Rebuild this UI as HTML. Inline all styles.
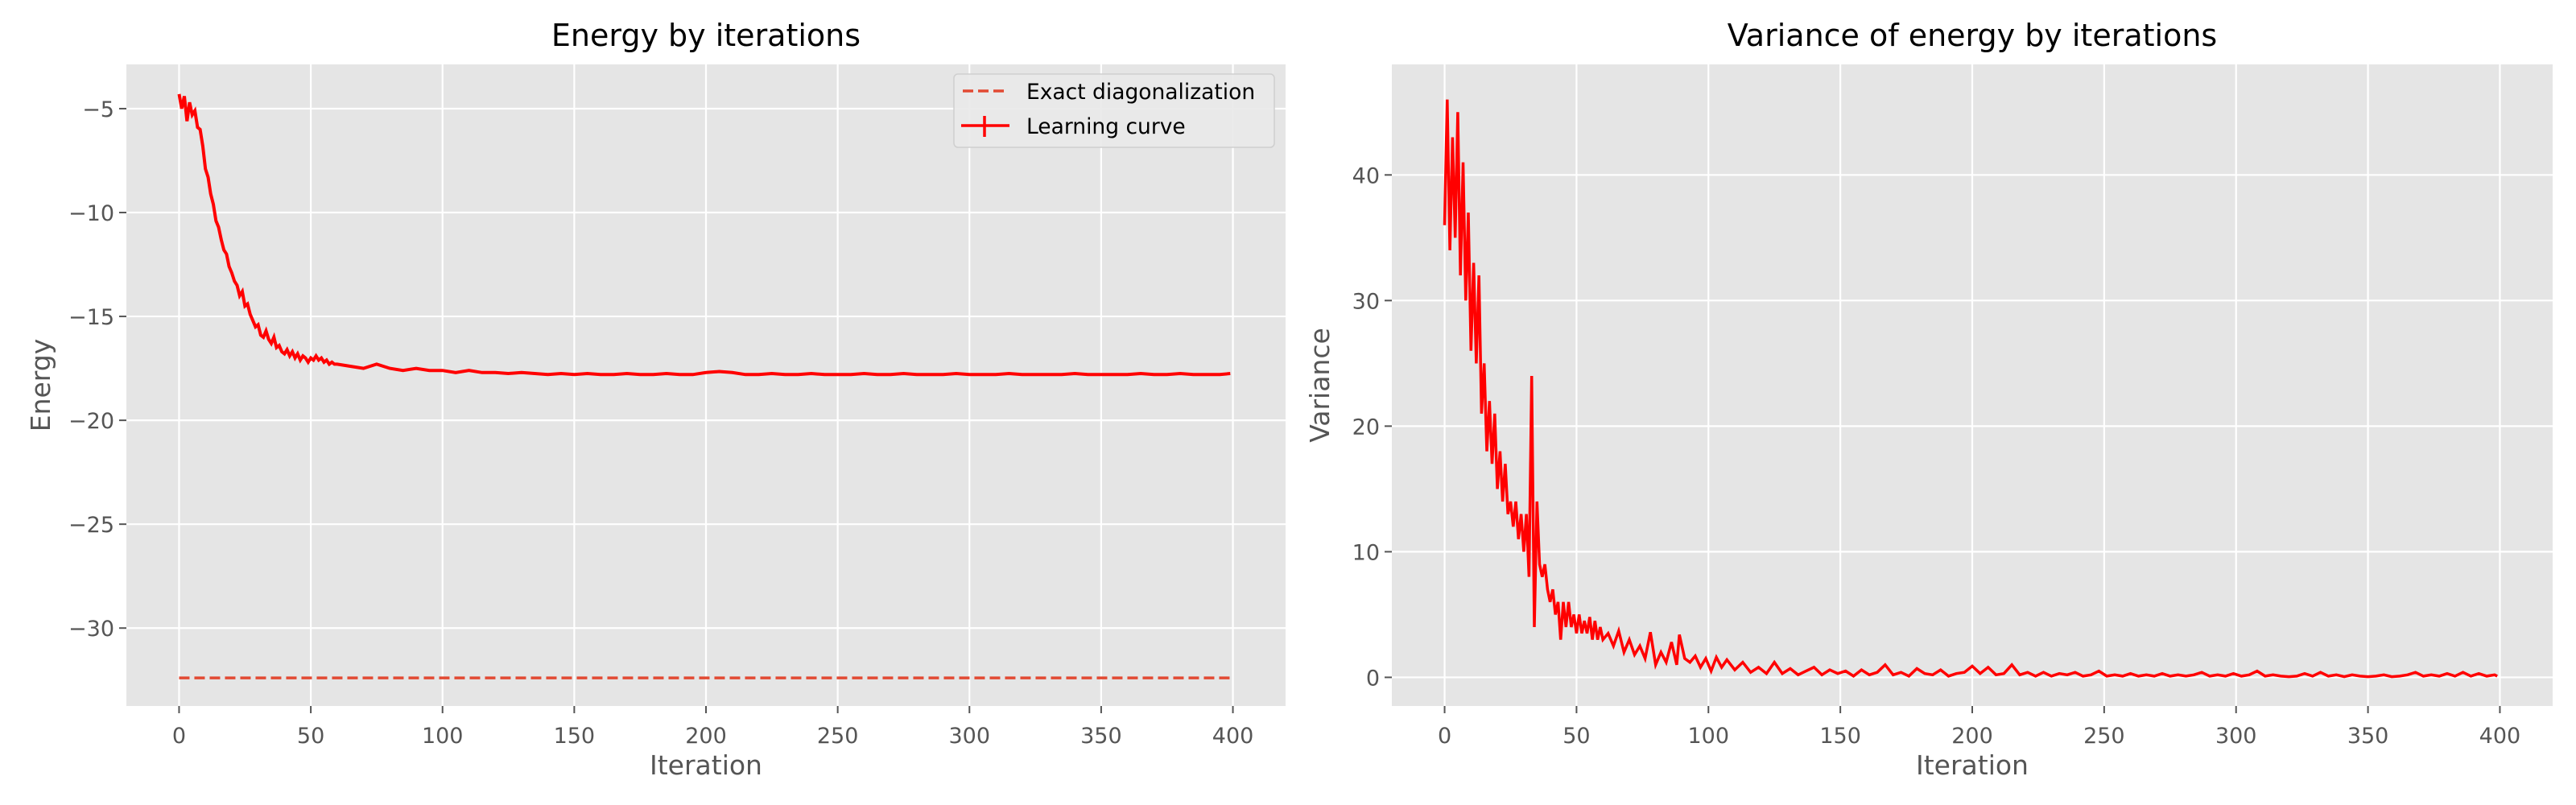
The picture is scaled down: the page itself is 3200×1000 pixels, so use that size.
<!DOCTYPE html>
<html><head><meta charset="utf-8"><style>
html,body{margin:0;padding:0;background:#fff;}
svg{display:block;font-family:"DejaVu Sans","Liberation Sans",sans-serif;}
</style></head><body>
<svg id="fig" width="3200" height="1000" viewBox="0 0 3200 1000" xmlns="http://www.w3.org/2000/svg"></svg>
<script>
// ---- data ----
const xTicks = [0,50,100,150,200,250,300,350,400];
const energyTicks = [-5,-10,-15,-20,-25,-30];
const varianceTicks = [0,10,20,30,40];
const exactEnergy = -32.4;
const energyIters = [0,1,2,3,4,5,6,7,8,9,10,11,12,13,14,15,16,17,18,19,20,21,22,23,24,25,26,27,28,29,30,31,32,33,34,35,36,37,38,39,40,41,42,43,44,45,46,47,48,49,50,51,52,53,54,55,56,57,58,59,60,
65,70,75,80,85,90,95,100,105,110,115,120,125,130,135,140,145,150,155,160,165,170,175,180,185,190,195,200,205,210,215,220,225,230,235,240,245,250,255,260,265,270,275,280,285,290,295,300,305,310,315,320,325,330,335,340,345,350,355,360,365,370,375,380,385,390,395,399];
const energyValues = [-4.3,-5.0,-4.4,-5.6,-4.7,-5.3,-5.1,-5.9,-6.0,-6.8,-7.9,-8.3,-9.1,-9.6,-10.4,-10.7,-11.3,-11.8,-12.0,-12.6,-12.9,-13.3,-13.5,-14.0,-13.8,-14.5,-14.4,-14.9,-15.2,-15.5,-15.4,-15.9,-16.0,-15.7,-16.1,-16.3,-16.0,-16.5,-16.4,-16.7,-16.8,-16.6,-16.9,-16.7,-17.0,-16.8,-17.1,-16.9,-17.0,-17.2,-17.0,-17.1,-16.9,-17.1,-17.0,-17.2,-17.1,-17.3,-17.2,-17.3,-17.3,
-17.4,-17.5,-17.3,-17.5,-17.6,-17.5,-17.6,-17.6,-17.7,-17.6,-17.7,-17.7,-17.75,-17.7,-17.75,-17.8,-17.75,-17.8,-17.75,-17.8,-17.8,-17.75,-17.8,-17.8,-17.75,-17.8,-17.8,-17.7,-17.65,-17.7,-17.8,-17.8,-17.75,-17.8,-17.8,-17.75,-17.8,-17.8,-17.8,-17.75,-17.8,-17.8,-17.75,-17.8,-17.8,-17.8,-17.75,-17.8,-17.8,-17.8,-17.75,-17.8,-17.8,-17.8,-17.8,-17.75,-17.8,-17.8,-17.8,-17.8,-17.75,-17.8,-17.8,-17.75,-17.8,-17.8,-17.8,-17.75];
const varianceIters = [0,1,2,3,4,5,6,7,8,9,10,11,12,13,14,15,16,17,18,19,20,21,22,23,24,25,26,27,28,29,30,31,32,33,34,35,36,37,38,39,40,41,42,43,44,45,46,47,48,49,50,51,52,53,54,55,56,57,58,59,60,
62,64,66,68,70,72,74,76,78,80,82,84,86,88,89,91,93,95,97,99,101,103,105,107,110,113,116,119,122,125,128,131,134,137,140,143,146,149,152,155,158,161,164,167,170,173,176,179,182,185,188,191,194,197,200,203,206,209,212,215,218,221,224,227,230,233,236,239,242,245,248,251,254,257,260,263,266,269,272,275,278,281,284,287,290,293,296,299,302,305,308,311,314,317,320,323,326,329,332,335,338,341,344,347,350,353,356,359,362,365,368,371,374,377,380,383,386,389,392,395,398,399];
const varianceValues = [36,46,34,43,35,45,32,41,30,37,26,33,25,32,21,25,18,22,17,21,15,18,14,17,13,14,12,14,11,13,10,13,8,24,4,14,9,8,9,7,6,7,5,6,3,6,4,6,4,5,3.5,5,3.5,4.5,3.5,4.8,3,4.5,3,4,3,
3.5,2.5,3.7,2,3,1.8,2.5,1.5,3.6,1,2,1.2,2.8,1,3.4,1.5,1.2,1.7,0.8,1.5,0.5,1.6,0.8,1.4,0.6,1.2,0.4,0.8,0.3,1.2,0.3,0.7,0.2,0.5,0.8,0.2,0.6,0.3,0.5,0.1,0.6,0.2,0.4,1,0.2,0.4,0.1,0.7,0.3,0.2,0.6,0.1,0.3,0.4,0.9,0.3,0.8,0.2,0.3,1,0.2,0.4,0.1,0.4,0.1,0.3,0.2,0.4,0.1,0.2,0.5,0.1,0.2,0.1,0.3,0.1,0.2,0.1,0.3,0.1,0.2,0.1,0.2,0.4,0.1,0.2,0.1,0.3,0.1,0.2,0.5,0.1,0.2,0.1,0.05,0.1,0.3,0.1,0.4,0.1,0.2,0.05,0.2,0.1,0.05,0.1,0.2,0.05,0.1,0.2,0.4,0.1,0.2,0.1,0.3,0.1,0.4,0.1,0.3,0.1,0.2,0.1];

const NS = 'http://www.w3.org/2000/svg';
const svg = document.getElementById('fig');
function mk(tag, attrs, parent, text) {
  const e = document.createElementNS(NS, tag);
  for (const k in attrs) e.setAttribute(k, attrs[k]);
  if (text !== undefined) e.textContent = text;
  (parent || svg).appendChild(e);
  return e;
}
function linScale(d0, d1, r0, r1) { return v => r0 + (v - d0) / (d1 - d0) * (r1 - r0); }

function drawAxes(cfg) {
  const g = mk('g', {});
  
  
  const bg = mk('rect', {x: cfg.L, y: cfg.T, width: cfg.R - cfg.L, height: cfg.B - cfg.T, fill: '#e5e5e5'}, g);
  
  
  const xs = linScale(-20, 420, cfg.L, cfg.R);
  const ys = linScale(cfg.ymin, cfg.ymax, cfg.B, cfg.T);
  xTicks.forEach(t => {
    const x = xs(t);
    const gl = mk('line', {x1: x, x2: x, y1: cfg.T, y2: cfg.B, stroke: '#fff', 'stroke-width': 2.2}, g);
    
    
    mk('line', {x1: x, x2: x, y1: cfg.B, y2: cfg.B + 9, stroke: '#555', 'stroke-width': 2}, g);
    const tl = mk('text', {x: x, y: cfg.B + 46, 'font-size': 27, fill: '#555', 'text-anchor': 'middle'}, g, String(t));
    
    
  });
  cfg.yTicks.forEach(t => {
    const y = ys(t);
    const gl = mk('line', {x1: cfg.L, x2: cfg.R, y1: y, y2: y, stroke: '#fff', 'stroke-width': 2.2}, g);
    
    
    mk('line', {x1: cfg.L - 9, x2: cfg.L, y1: y, y2: y, stroke: '#555', 'stroke-width': 2}, g);
    const tl = mk('text', {x: cfg.L - 15, y: y + 10, 'font-size': 27, fill: '#555', 'text-anchor': 'end'}, g, String(t).replace('-', '\u2212'));
    
    
  });
  const tt = mk('text', {x: (cfg.L + cfg.R) / 2, y: 57, 'font-size': 38, fill: '#000', 'text-anchor': 'middle'}, g, cfg.title);
  
  
  const xl = mk('text', {x: (cfg.L + cfg.R) / 2, y: 962, 'font-size': 33, fill: '#555', 'text-anchor': 'middle'}, g, 'Iteration');
  
  
  const cy = (cfg.T + cfg.B) / 2;
  const yl = mk('text', {x: cfg.ylx, y: cy, 'font-size': 33, fill: '#555', 'text-anchor': 'middle', transform: `rotate(-90 ${cfg.ylx} ${cy})`}, g, cfg.ylabel);
  
  
  return {g, xs, ys};
}

// ---- Energy chart ----
const A = drawAxes({name: 'energy-chart', L: 157, R: 1597, T: 80, B: 877, ymin: -33.75, ymax: -2.87,
  yTicks: energyTicks, title: 'Energy by iterations', ylabel: 'Energy', ylx: 62});
const exact = mk('line', {x1: A.xs(0), x2: A.xs(400), y1: A.ys(exactEnergy), y2: A.ys(exactEnergy), stroke: '#E24A33', 'stroke-width': 3.5, 'stroke-dasharray': '13,6'}, A.g);


let d = energyIters.map((it, i) => (i ? 'L' : 'M') + A.xs(it).toFixed(1) + ',' + A.ys(energyValues[i]).toFixed(1)).join('');
const ep = mk('path', {d: d, fill: 'none', stroke: '#ff0000', 'stroke-width': 4, 'stroke-linejoin': 'miter'}, A.g);



// legend
const lg = mk('g', {}, A.g);


mk('rect', {x: 1185, y: 92, width: 398, height: 91, rx: 5, fill: '#e9e9e9', 'fill-opacity': 0.9, stroke: '#cfcfcf', 'stroke-width': 1.5}, lg);
const le1 = mk('g', {}, lg);


mk('line', {x1: 1196, x2: 1253, y1: 113, y2: 113, stroke: '#E24A33', 'stroke-width': 3.5, 'stroke-dasharray': '13,6'}, le1);
mk('text', {x: 1275, y: 123, 'font-size': 26.5, fill: '#000'}, le1, 'Exact diagonalization');
const le2 = mk('g', {}, lg);


mk('line', {x1: 1194, x2: 1254, y1: 156, y2: 156, stroke: '#ff0000', 'stroke-width': 3.5}, le2);
mk('line', {x1: 1223, x2: 1223, y1: 144, y2: 170, stroke: '#ff0000', 'stroke-width': 3.5}, le2);
mk('text', {x: 1275, y: 166, 'font-size': 26.5, fill: '#000'}, le2, 'Learning curve');

// ---- Variance chart ----
const B = drawAxes({name: 'variance-chart', L: 1729, R: 3171, T: 80, B: 877, ymin: -2.28, ymax: 48.8,
  yTicks: varianceTicks, title: 'Variance of energy by iterations', ylabel: 'Variance', ylx: 1651});
d = varianceIters.map((it, i) => (i ? 'L' : 'M') + B.xs(it).toFixed(1) + ',' + B.ys(varianceValues[i]).toFixed(1)).join('');
const vp = mk('path', {d: d, fill: 'none', stroke: '#ff0000', 'stroke-width': 3.5}, B.g);


</script>
</body></html>
